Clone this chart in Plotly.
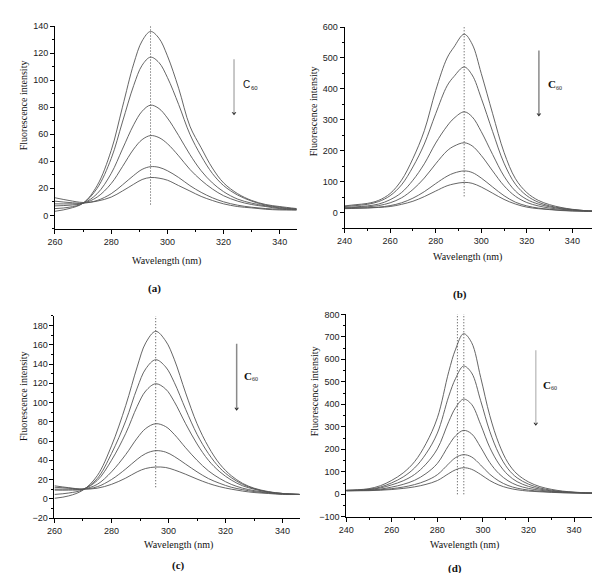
import plotly.graph_objects as go

W, H = 600, 573

# ---------------- data ----------------
wl_a = [260, 265, 270, 275, 280, 284, 288, 291, 294, 297, 300, 304, 308, 312, 316, 320, 325, 330, 335, 340, 346]
a1 = [3, 5, 9, 22, 48, 80, 112, 129, 136, 131, 118, 94, 66, 50, 35, 24, 16, 11, 8, 6.5, 5]
a2 = [5, 6, 9, 20, 42, 69, 96, 111, 117, 113, 102, 82, 60, 44, 31, 22, 15, 10.5, 7.5, 6, 4.5]
a3 = [7, 7.5, 9, 16, 31, 49, 67, 77, 81.5, 79, 72, 59, 45, 33, 24, 17.5, 12, 9, 7, 5.5, 4.5]
a4 = [8.5, 8.5, 9, 13.5, 23.5, 36, 49, 56, 59, 57.5, 53, 44, 34, 26, 19.5, 14.5, 10.5, 8, 6.5, 5, 4.5]
a5 = [10.5, 9.5, 9, 11, 16, 22.5, 29.5, 34, 36, 35.5, 33, 28, 22, 17, 13, 10, 7.5, 6, 5, 4.5, 4]
a6 = [13, 11, 9.5, 10.5, 13.5, 18, 23, 26.5, 28, 27.5, 26, 22, 18, 14, 11, 8.5, 6.5, 5.5, 4.5, 4, 4]

wl_b = [240, 245, 250, 255, 260, 265, 270, 275, 280, 285, 288, 292.5, 296, 300, 305, 310, 315, 320, 325, 330, 335, 340, 345, 350]
b1 = [22, 26, 30, 40, 62, 105, 175, 265, 395, 500, 535, 577, 545, 450, 320, 195, 110, 65, 40, 26, 17, 11, 7, 5]
b2 = [20, 23, 27, 36, 55, 90, 148, 222, 320, 410, 440, 471, 445, 370, 262, 160, 92, 55, 34, 22, 15, 10, 7, 5]
b3 = [17, 19, 22, 28, 42, 65, 105, 158, 225, 280, 305, 326, 310, 262, 188, 118, 70, 43, 28, 19, 13, 9, 6, 5]
b4 = [15, 17, 19, 23, 32, 48, 75, 112, 158, 200, 215, 226, 216, 185, 135, 87, 53, 33, 22, 15, 11, 8, 6, 4.5]
b5 = [14, 15, 16, 18, 23, 32, 47, 68, 94, 118, 128, 135, 130, 112, 83, 55, 34, 22, 15, 11, 8, 6, 5, 4]
b6 = [13, 14, 15, 17, 20, 27, 37, 52, 70, 87, 93, 98, 95, 83, 63, 43, 28, 18, 13, 10, 7, 5.5, 4.5, 4]

wl_c = [260, 265, 270, 275, 280, 285, 289, 292, 295.5, 299, 302, 306, 310, 314, 318, 322, 326, 330, 335, 340, 346]
c1 = [0.5, 3, 9, 24, 55, 97, 137, 162, 174, 164, 145, 110, 78, 54, 36, 24, 16, 11, 7.5, 5.5, 4.5]
c2 = [4.5, 6, 9.5, 21, 47, 81, 115, 135, 144.5, 137, 121, 93, 67, 47, 32, 22, 15, 10.5, 7, 5.5, 4.5]
c3 = [9, 9, 10, 19, 40, 68, 96, 112, 119.5, 114, 101, 78, 57, 40, 28, 19.5, 13.5, 10, 7, 5.5, 4.5]
c4 = [10, 10, 10, 15, 28, 46, 63, 73, 78, 75, 67, 53, 40, 29, 21, 15, 11, 8.5, 6.5, 5, 4.5]
c5 = [12, 11, 10, 12.5, 20, 31, 41, 47, 50, 48.5, 44, 36, 28, 21, 16, 12, 9.5, 7.5, 6, 5, 4.5]
c6 = [13.5, 11.5, 10, 11, 15, 21.5, 28, 31.5, 33, 32.5, 30, 25.5, 20.5, 16, 12.5, 10, 8, 6.5, 5.5, 4.5, 4.5]

wl_d = [240, 245, 250, 255, 260, 265, 270, 275, 280, 285, 288, 291.5, 295, 299, 303, 307, 311, 315, 320, 325, 330, 335, 340, 345, 350]
d1 = [18, 20, 25, 38, 62, 95, 145, 225, 340, 545, 645, 714, 675, 520, 350, 225, 140, 90, 55, 34, 22, 14, 9.5, 6.5, 5]
d2 = [17, 19, 22, 32, 51, 77, 117, 180, 272, 436, 515, 570, 540, 416, 280, 180, 113, 73, 45, 28, 18, 12, 8.5, 6, 5]
d3 = [17, 18, 21, 28, 42, 60, 88, 134, 202, 323, 385, 423, 400, 310, 208, 135, 86, 56, 35, 23, 15, 10.5, 8, 6, 5]
d4 = [16, 17, 19, 23, 32, 44, 62, 92, 137, 218, 260, 284, 269, 209, 141, 92, 60, 40, 26, 18, 12.5, 9, 7, 5.5, 4.5]
d5 = [16, 16.5, 17.5, 20, 25, 32, 43, 60, 87, 136, 163, 176, 166, 130, 89, 59, 39, 27, 18.5, 13.5, 10, 7.5, 6, 5, 4.5]
d6 = [15, 15.5, 16, 18, 21, 26, 33, 44, 61, 92, 109, 118, 111, 88, 61, 41, 28, 20, 14, 11, 8.5, 6.5, 5.5, 4.5, 4]

peaks_a = [294]
peaks_b = [292.5]
peaks_c = [295.5]
peaks_d = [288.8, 291.6]

panel_labels = ["(a)", "(b)", "(c)", "(d)"]
x_title = "Wavelength (nm)"
y_title = "Fluorescence intensity"
quencher = "C"
quencher_sub = "60"

# ---------------- layout helpers ----------------
def px(x):
    return x / W


def py(y):
    return 1 - y / H


fig = go.Figure()

panels = [
    dict(wl=wl_a, curves=[a1, a2, a3, a4, a5, a6], xr=[260, 346], yr=[-10, 140], ydt=20, ymin=10,
         xd=(39.5, 284.5), yd=(219.7, 13.3), peaks=peaks_a, dot=(8, 147)),
    dict(wl=wl_b, curves=[b1, b2, b3, b4, b5, b6], xr=[240, 350], yr=[-50, 600], ydt=100, ymin=50,
         xd=(333, 587), yd=(219.0, 14.3), peaks=peaks_b, dot=(53, 608)),
    dict(wl=wl_c, curves=[c1, c2, c3, c4, c5, c6], xr=[260, 346], yr=[-20, 190], ydt=20, ymin=10,
         xd=(39, 287.5), yd=(514.0, 308.3), peaks=peaks_c, dot=(12, 196)),
    dict(wl=wl_d, curves=[d1, d2, d3, d4, d5, d6], xr=[240, 350], yr=[-100, 800], ydt=100, ymin=50,
         xd=(334.7, 588.7), yd=(512.7, 306.7), peaks=peaks_d, dot=(0, 815)),
]

tick_font = dict(family="Liberation Sans, Arial", size=9, color="#222")
line_color = "#555555"

for i, p in enumerate(panels):
    n = i + 1
    xa = "x" if n == 1 else f"x{n}"
    ya = "y" if n == 1 else f"y{n}"
    for cv in p["curves"]:
        fig.add_trace(go.Scatter(x=p["wl"], y=cv, mode="lines", xaxis=xa, yaxis=ya,
                                 line=dict(color=line_color, width=0.9, shape="spline", smoothing=1.0),
                                 showlegend=False, hoverinfo="skip"))
    for pk in p["peaks"]:
        fig.add_shape(type="line", xref=xa, yref=ya, x0=pk, x1=pk, y0=p["dot"][0], y1=p["dot"][1],
                      line=dict(color="#444", width=1, dash="1px,2px"), layer="above")
    axis_common = dict(showline=True, linecolor="black", linewidth=1, ticks="outside", ticklen=4,
                       tickcolor="black", tickwidth=1, showgrid=False, zeroline=False,
                       tickfont=tick_font, mirror=False)
    xkey = "xaxis" if n == 1 else f"xaxis{n}"
    ykey = "yaxis" if n == 1 else f"yaxis{n}"
    fig.update_layout(**{
        xkey: dict(axis_common, range=p["xr"], dtick=20, tick0=0, anchor=ya,
                   domain=[px(p["xd"][0]), px(p["xd"][1])],
                   minor=dict(ticks="outside", ticklen=2, tickcolor="black", dtick=10)),
        ykey: dict(axis_common, range=p["yr"], dtick=p["ydt"], tick0=0, anchor=xa,
                   domain=[py(p["yd"][0]), py(p["yd"][1])],
                   minor=dict(ticks="outside", ticklen=2, tickcolor="black", dtick=p["ymin"])),
    })

serif = "Liberation Serif, Times New Roman"
ann = []
xt_pos = [(153, 252), (458, 248), (165, 541), (455, 541)]
yt_pos = [(7, 94), (301, 100), (7, 390), (302, 385)]
lab_pos = [(140, 280), (450, 286), (165, 562), (445, 565)]
for i in range(4):
    ann.append(dict(text=x_title, x=px(xt_pos[i][0]), y=py(xt_pos[i][1]), xref="paper", yref="paper",
                    showarrow=False, font=dict(family=serif, size=10, color="#111"),
                    xanchor="center", yanchor="middle"))
    ann.append(dict(text=y_title, x=px(yt_pos[i][0]), y=py(yt_pos[i][1]), xref="paper", yref="paper",
                    showarrow=False, textangle=-90, font=dict(family=serif, size=10, color="#111"),
                    xanchor="center", yanchor="middle"))
    ann.append(dict(text="<b>" + panel_labels[i] + "</b>", x=px(lab_pos[i][0]), y=py(lab_pos[i][1]),
                    xref="paper", yref="paper", showarrow=False,
                    font=dict(family=serif, size=11, color="#111"), xanchor="center", yanchor="middle"))

# arrows (shaft as shape, head as marker) with C60 labels (C + lowered small "60")
sans = "Liberation Sans, Arial"
arrows = [
    ("x", "y", 323.7, 75.6, 115.4, "#b5b5b5", 326.3, 97, sans, False, 10, 7.5),
    ("x2", "y2", 325.3, 317, 524, "#8a8a8a", 328.3, 415, serif, True, 11, 8.0),
    ("x3", "y3", 323.9, 93.6, 161, "#8a8a8a", 325.7, 128, serif, True, 11, 8.0),
    ("x4", "y4", 323.2, 313, 640, "#c4c4c4", 325.4, 488, serif, True, 11, 8.0),
]
for xa, ya, ax_, yh, yt, col, tx, ty, fam, bold, fs, cw in arrows:
    fig.add_shape(type="line", xref=xa, yref=ya, x0=ax_, x1=ax_, y0=yh, y1=yt,
                  line=dict(color=col, width=1.5))
    fig.add_trace(go.Scatter(x=[ax_], y=[yh], mode="markers", xaxis=xa, yaxis=ya,
                             marker=dict(symbol="triangle-down", size=4, color="#222"),
                             showlegend=False, hoverinfo="skip", cliponaxis=False))
    ctext = "<b>" + quencher + "</b>" if bold else quencher
    ann.append(dict(x=tx, y=ty, xref=xa, yref=ya, text=ctext, showarrow=False,
                    font=dict(family=fam, size=fs, color="#111"), xanchor="left", yanchor="middle"))
    ann.append(dict(x=tx, y=ty, xref=xa, yref=ya, text=quencher_sub, showarrow=False,
                    xshift=cw, yshift=-3.5,
                    font=dict(family=fam, size=6, color="#222"), xanchor="left", yanchor="middle"))

fig.update_layout(annotations=ann, width=W, height=H, margin=dict(l=0, r=0, t=0, b=0),
                  paper_bgcolor="white", plot_bgcolor="white", showlegend=False)

fig.write_html("out.html")
